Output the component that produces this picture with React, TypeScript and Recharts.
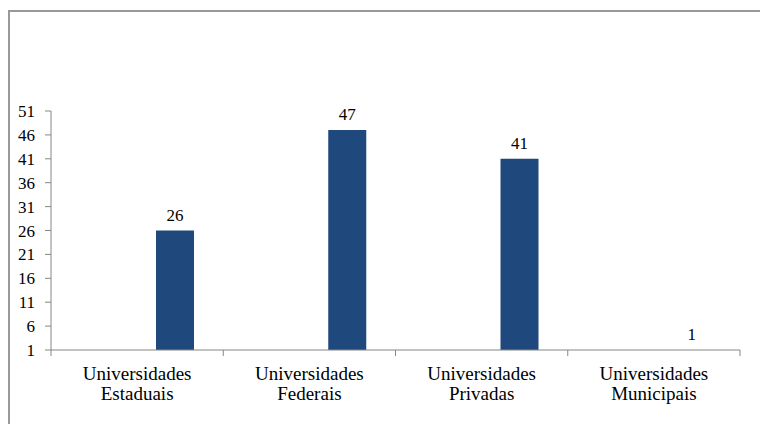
import React from "react";
import { BarChart, Bar, XAxis, YAxis, LabelList } from "recharts";

const categories = [
  "Universidades Estaduais",
  "Universidades Federais",
  "Universidades Privadas",
  "Universidades Municipais",
];
const values = [26, 47, 41, 1];
const yTicks = [1, 6, 11, 16, 21, 26, 31, 36, 41, 46, 51];

const data = categories.map((name, i) => ({ name, vazio: null, total: values[i] }));

const FONT = "Liberation Serif";
const AXIS = "#868686";

function CategoryTick(props: any) {
  const { x, y, payload, index } = props;
  const half = payload.offset ?? 86;
  const [first, ...rest] = String(payload.value).split(" ");
  return (
    <g>
      <line x1={x - half} y1={y} x2={x - half} y2={y + 6} stroke={AXIS} />
      {index === categories.length - 1 && (
        <line x1={x + half} y1={y} x2={x + half} y2={y + 6} stroke={AXIS} />
      )}
      <text x={x} y={y + 30} textAnchor="middle" fontFamily={FONT} fontSize={19} fill="#000">
        <tspan x={x}>{first}</tspan>
        <tspan x={x} dy={20}>{rest.join(" ")}</tspan>
      </text>
    </g>
  );
}

export default function App() {
  return (
    <div style={{ position: "absolute", left: 0, top: 0, width: 760, height: 424, overflow: "hidden", background: "#fff" }}>
      <div
        style={{
          position: "absolute",
          left: 8,
          top: 10,
          width: 900,
          height: 600,
          borderLeft: "2px solid #999",
          borderTop: "2px solid #999",
        }}
      />
      <div style={{ position: "absolute", left: 0, top: 0 }}>
        <BarChart
          width={760}
          height={424}
          data={data}
          margin={{ top: 111, right: 20, bottom: 0, left: 11 }}
          barGap={38}
          barSize={38}
        >
          <XAxis
            dataKey="name"
            height={74}
            tickSize={0}
            tickMargin={0}
            interval={0}
            stroke={AXIS}
            tick={<CategoryTick />}
          />
          <YAxis
            width={40}
            domain={[1, 51]}
            ticks={yTicks}
            interval={0}
            tickSize={6}
            tickMargin={10}
            stroke={AXIS}
            tick={{ fontFamily: FONT, fontSize: 17, fill: "#000" }}
          />
          <Bar dataKey="vazio" fill="#1F497D" isAnimationActive={false} />
          <Bar dataKey="total" fill="#1F497D" minPointSize={0.1} isAnimationActive={false}>
            <LabelList
              dataKey="total"
              position="top"
              offset={10}
              fontFamily={FONT}
              fontSize={17}
              fill="#000"
            />
          </Bar>
        </BarChart>
      </div>
    </div>
  );
}
